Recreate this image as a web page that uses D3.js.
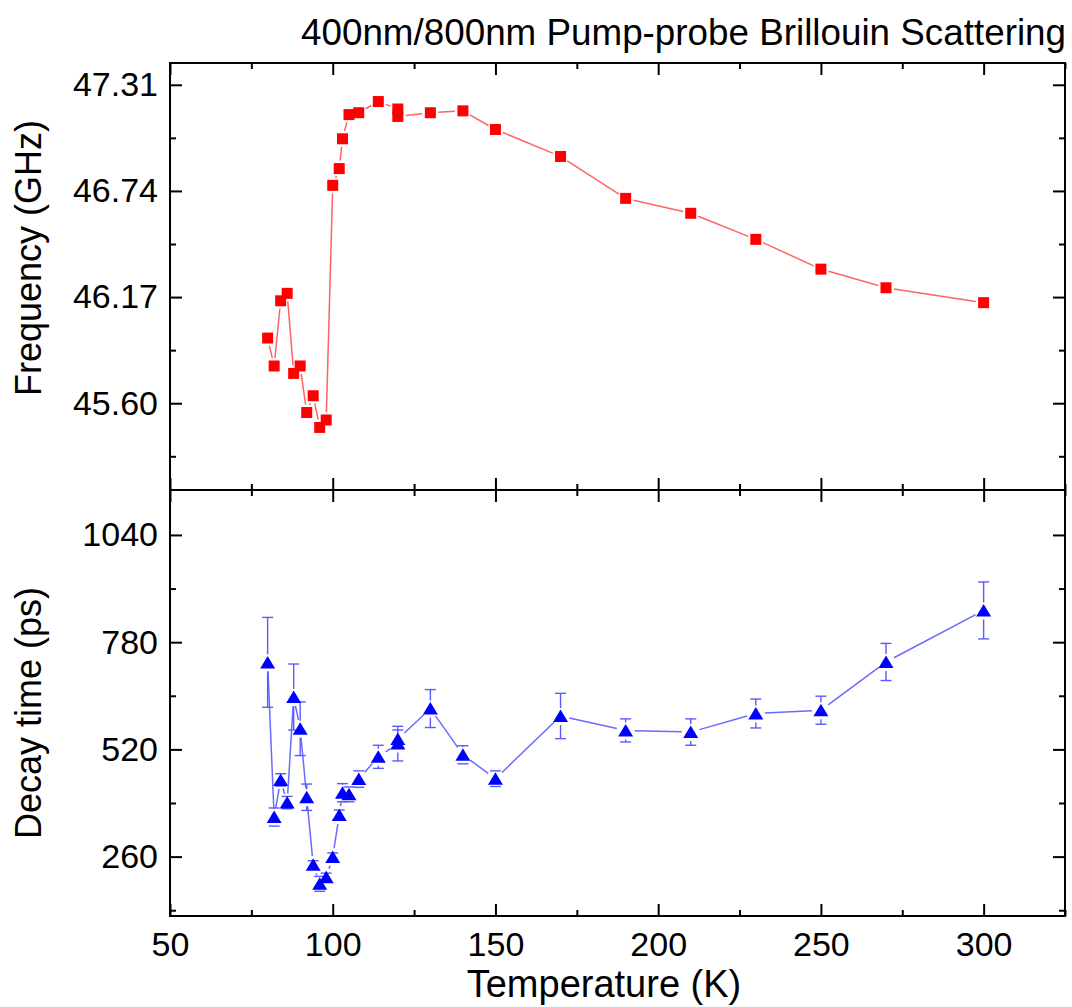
<!DOCTYPE html>
<html>
<head>
<meta charset="utf-8">
<script src="https://cdn.jsdelivr.net/npm/d3@7"></script>
<style>
  html, body { margin: 0; padding: 0; background: #fff; }
  svg { display: block; font-family: "Liberation Sans", Arial, sans-serif; }
</style>
</head>
<body>
<svg id="chart" width="1072" height="1007"></svg>
<script>
// ---------------- data ----------------
const temperature = [80, 82, 84, 86, 88, 90, 92, 94, 96, 98, 100, 102, 103, 105, 108, 114, 120, 120, 130, 140, 150, 170, 190, 210, 230, 250, 270, 300];
const frequency = [45.95, 45.80, 46.15, 46.19, 45.76, 45.80, 45.55, 45.64, 45.47, 45.51, 46.77, 46.86, 47.02, 47.15, 47.16, 47.22, 47.18, 47.14, 47.16, 47.17, 47.07, 46.925, 46.70, 46.62, 46.48, 46.32, 46.22, 46.14];
const decayTime = [731, 356, 446, 391, 647, 570, 404, 240, 194, 210, 259, 361, 415, 411, 448, 502, 534, 545, 619, 507, 449, 601, 566, 562, 607, 615, 732, 857];
const decayErr = [109, 22, 15, 15, 80, 65, 32, 10, 18, 10, 10, 12, 22, 18, 20, 28, 42, 22, 46, 22, 19, 55, 28, 32, 35, 34, 45, 69];

const xMajor = [50, 100, 150, 200, 250, 300];
const xMinor = [75, 125, 175, 225, 275, 325];
const freqMajor = [45.60, 46.17, 46.74, 47.31];
const freqMinor = [45.315, 45.885, 46.455, 47.025];
const decayMajor = [260, 520, 780, 1040];
const decayMinor = [130, 390, 650, 910];

const titleText = "400nm/800nm Pump-probe Brillouin Scattering";
const xLabel = "Temperature (K)";
const yLabelTop = "Frequency (GHz)";
const yLabelBottom = "Decay time (ps)";

// ---------------- layout ----------------
const L = 170, R = 1065, T1 = 63, M = 490, B2 = 916;
const svg = d3.select("#chart");

const x = d3.scaleLinear().domain([50, 325]).range([L, R]);
const yF = d3.scaleLinear().domain([45.134, 47.427]).range([M, T1]);
const yD = d3.scaleLinear().domain([116, 1149]).range([B2, M]);

const tickFont = 34, labelFont = 36;

function drawAxes(g, yScale, top, bottom, yMaj, yMin, yFmt, showX) {
  g.append("g").attr("transform", `translate(${L},0)`)
    .call(d3.axisLeft(yScale).tickValues(yMin).tickSizeInner(-6).tickSizeOuter(0).tickFormat(""));
  g.append("g").attr("transform", `translate(${L},0)`)
    .call(d3.axisLeft(yScale).tickValues(yMaj).tickSizeInner(-12).tickSizeOuter(0).tickPadding(12).tickFormat(yFmt));
  g.append("g").attr("transform", `translate(${R},0)`)
    .call(d3.axisRight(yScale).tickValues(yMin).tickSizeInner(-6).tickSizeOuter(0).tickFormat(""));
  g.append("g").attr("transform", `translate(${R},0)`)
    .call(d3.axisRight(yScale).tickValues(yMaj).tickSizeInner(-12).tickSizeOuter(0).tickFormat(""));
  g.append("g").attr("transform", `translate(0,${top})`)
    .call(d3.axisTop(x).tickValues(xMinor).tickSizeInner(-6).tickSizeOuter(0).tickFormat(""));
  g.append("g").attr("transform", `translate(0,${top})`)
    .call(d3.axisTop(x).tickValues(xMajor).tickSizeInner(-12).tickSizeOuter(0).tickFormat(""));
  g.append("g").attr("transform", `translate(0,${bottom})`)
    .call(d3.axisBottom(x).tickValues(xMinor).tickSizeInner(-6).tickSizeOuter(0).tickFormat(""));
  g.append("g").attr("transform", `translate(0,${bottom})`)
    .call(d3.axisBottom(x).tickValues(xMajor).tickSizeInner(-12).tickSizeOuter(0).tickPadding(16)
      .tickFormat(showX ? d3.format("d") : ""));
  g.selectAll(".domain").remove();
  g.selectAll(".tick line").attr("stroke", "#000").attr("stroke-width", 2);
  g.selectAll(".tick text").attr("font-size", tickFont).attr("fill", "#000")
    .attr("font-family", "'Liberation Sans', Arial, sans-serif");
  g.append("rect").attr("x", L).attr("y", top).attr("width", R - L).attr("height", bottom - top)
    .attr("fill", "none").attr("stroke", "#000").attr("stroke-width", 2);
}

function gappedLine(g, pts, gap, color, width) {
  for (let i = 0; i < pts.length - 1; i++) {
    const [x0, y0] = pts[i], [x1, y1] = pts[i + 1];
    const dx = x1 - x0, dy = y1 - y0, len = Math.hypot(dx, dy);
    if (len <= 2 * gap) continue;
    const ux = dx / len, uy = dy / len;
    g.append("line")
      .attr("x1", x0 + ux * gap).attr("y1", y0 + uy * gap)
      .attr("x2", x1 - ux * gap).attr("y2", y1 - uy * gap)
      .attr("stroke", color).attr("stroke-width", width);
  }
}

// ---------------- top panel ----------------
const gTop = svg.append("g");
const topPts = temperature.map((t, i) => [x(t), yF(frequency[i])]);
gappedLine(gTop, topPts, 8, "#ff6464", 1.5);
gTop.selectAll("rect.pt").data(temperature).join("rect").attr("class", "pt")
  .attr("x", (t) => x(t) - 5.5)
  .attr("y", (t, i) => yF(frequency[i]) - 5.5)
  .attr("width", 11).attr("height", 11)
  .attr("fill", "#ff0000");
drawAxes(gTop, yF, T1, M, freqMajor, freqMinor, d3.format(".2f"), false);

// ---------------- bottom panel ----------------
const gBot = svg.append("g");
const botPts = temperature.map((t, i) => [x(t), yD(decayTime[i])]);
gappedLine(gBot, botPts, 9, "#6a6aff", 1.5);
const errColor = "#5a5aff";
temperature.forEach((t, i) => {
  const cx = x(t), cy = yD(decayTime[i]);
  const yt = yD(decayTime[i] + decayErr[i]), yb = yD(decayTime[i] - decayErr[i]);
  const g = gBot.append("g").attr("stroke", errColor).attr("stroke-width", 1.4);
  if (cy - 8 > yt) g.append("line").attr("x1", cx).attr("x2", cx).attr("y1", yt).attr("y2", cy - 8);
  if (cy + 9 < yb) g.append("line").attr("x1", cx).attr("x2", cx).attr("y1", cy + 9).attr("y2", yb);
  g.append("line").attr("x1", cx - 5.5).attr("x2", cx + 5.5).attr("y1", yt).attr("y2", yt);
  g.append("line").attr("x1", cx - 5.5).attr("x2", cx + 5.5).attr("y1", yb).attr("y2", yb);
});
gBot.selectAll("path.pt").data(temperature).join("path").attr("class", "pt")
  .attr("transform", (t, i) => `translate(${x(t)},${yD(decayTime[i])})`)
  .attr("d", "M0,-6.5L7.5,6L-7.5,6Z")
  .attr("fill", "#0000ff");
drawAxes(gBot, yD, M, B2, decayMajor, decayMinor, d3.format("d"), true);

// ---------------- texts ----------------
svg.append("text").attr("x", 1066).attr("y", 45).attr("text-anchor", "end")
  .attr("font-size", 36.8).attr("fill", "#000").text(titleText);
svg.append("text").attr("x", 604).attr("y", 997).attr("text-anchor", "middle")
  .attr("font-size", 38).attr("fill", "#000").text(xLabel);
svg.append("text").attr("transform", "translate(41,258) rotate(-90)").attr("text-anchor", "middle")
  .attr("font-size", labelFont).attr("fill", "#000").text(yLabelTop);
svg.append("text").attr("transform", "translate(41,713) rotate(-90)").attr("text-anchor", "middle")
  .attr("font-size", labelFont).attr("fill", "#000").text(yLabelBottom);
</script>
</body>
</html>
